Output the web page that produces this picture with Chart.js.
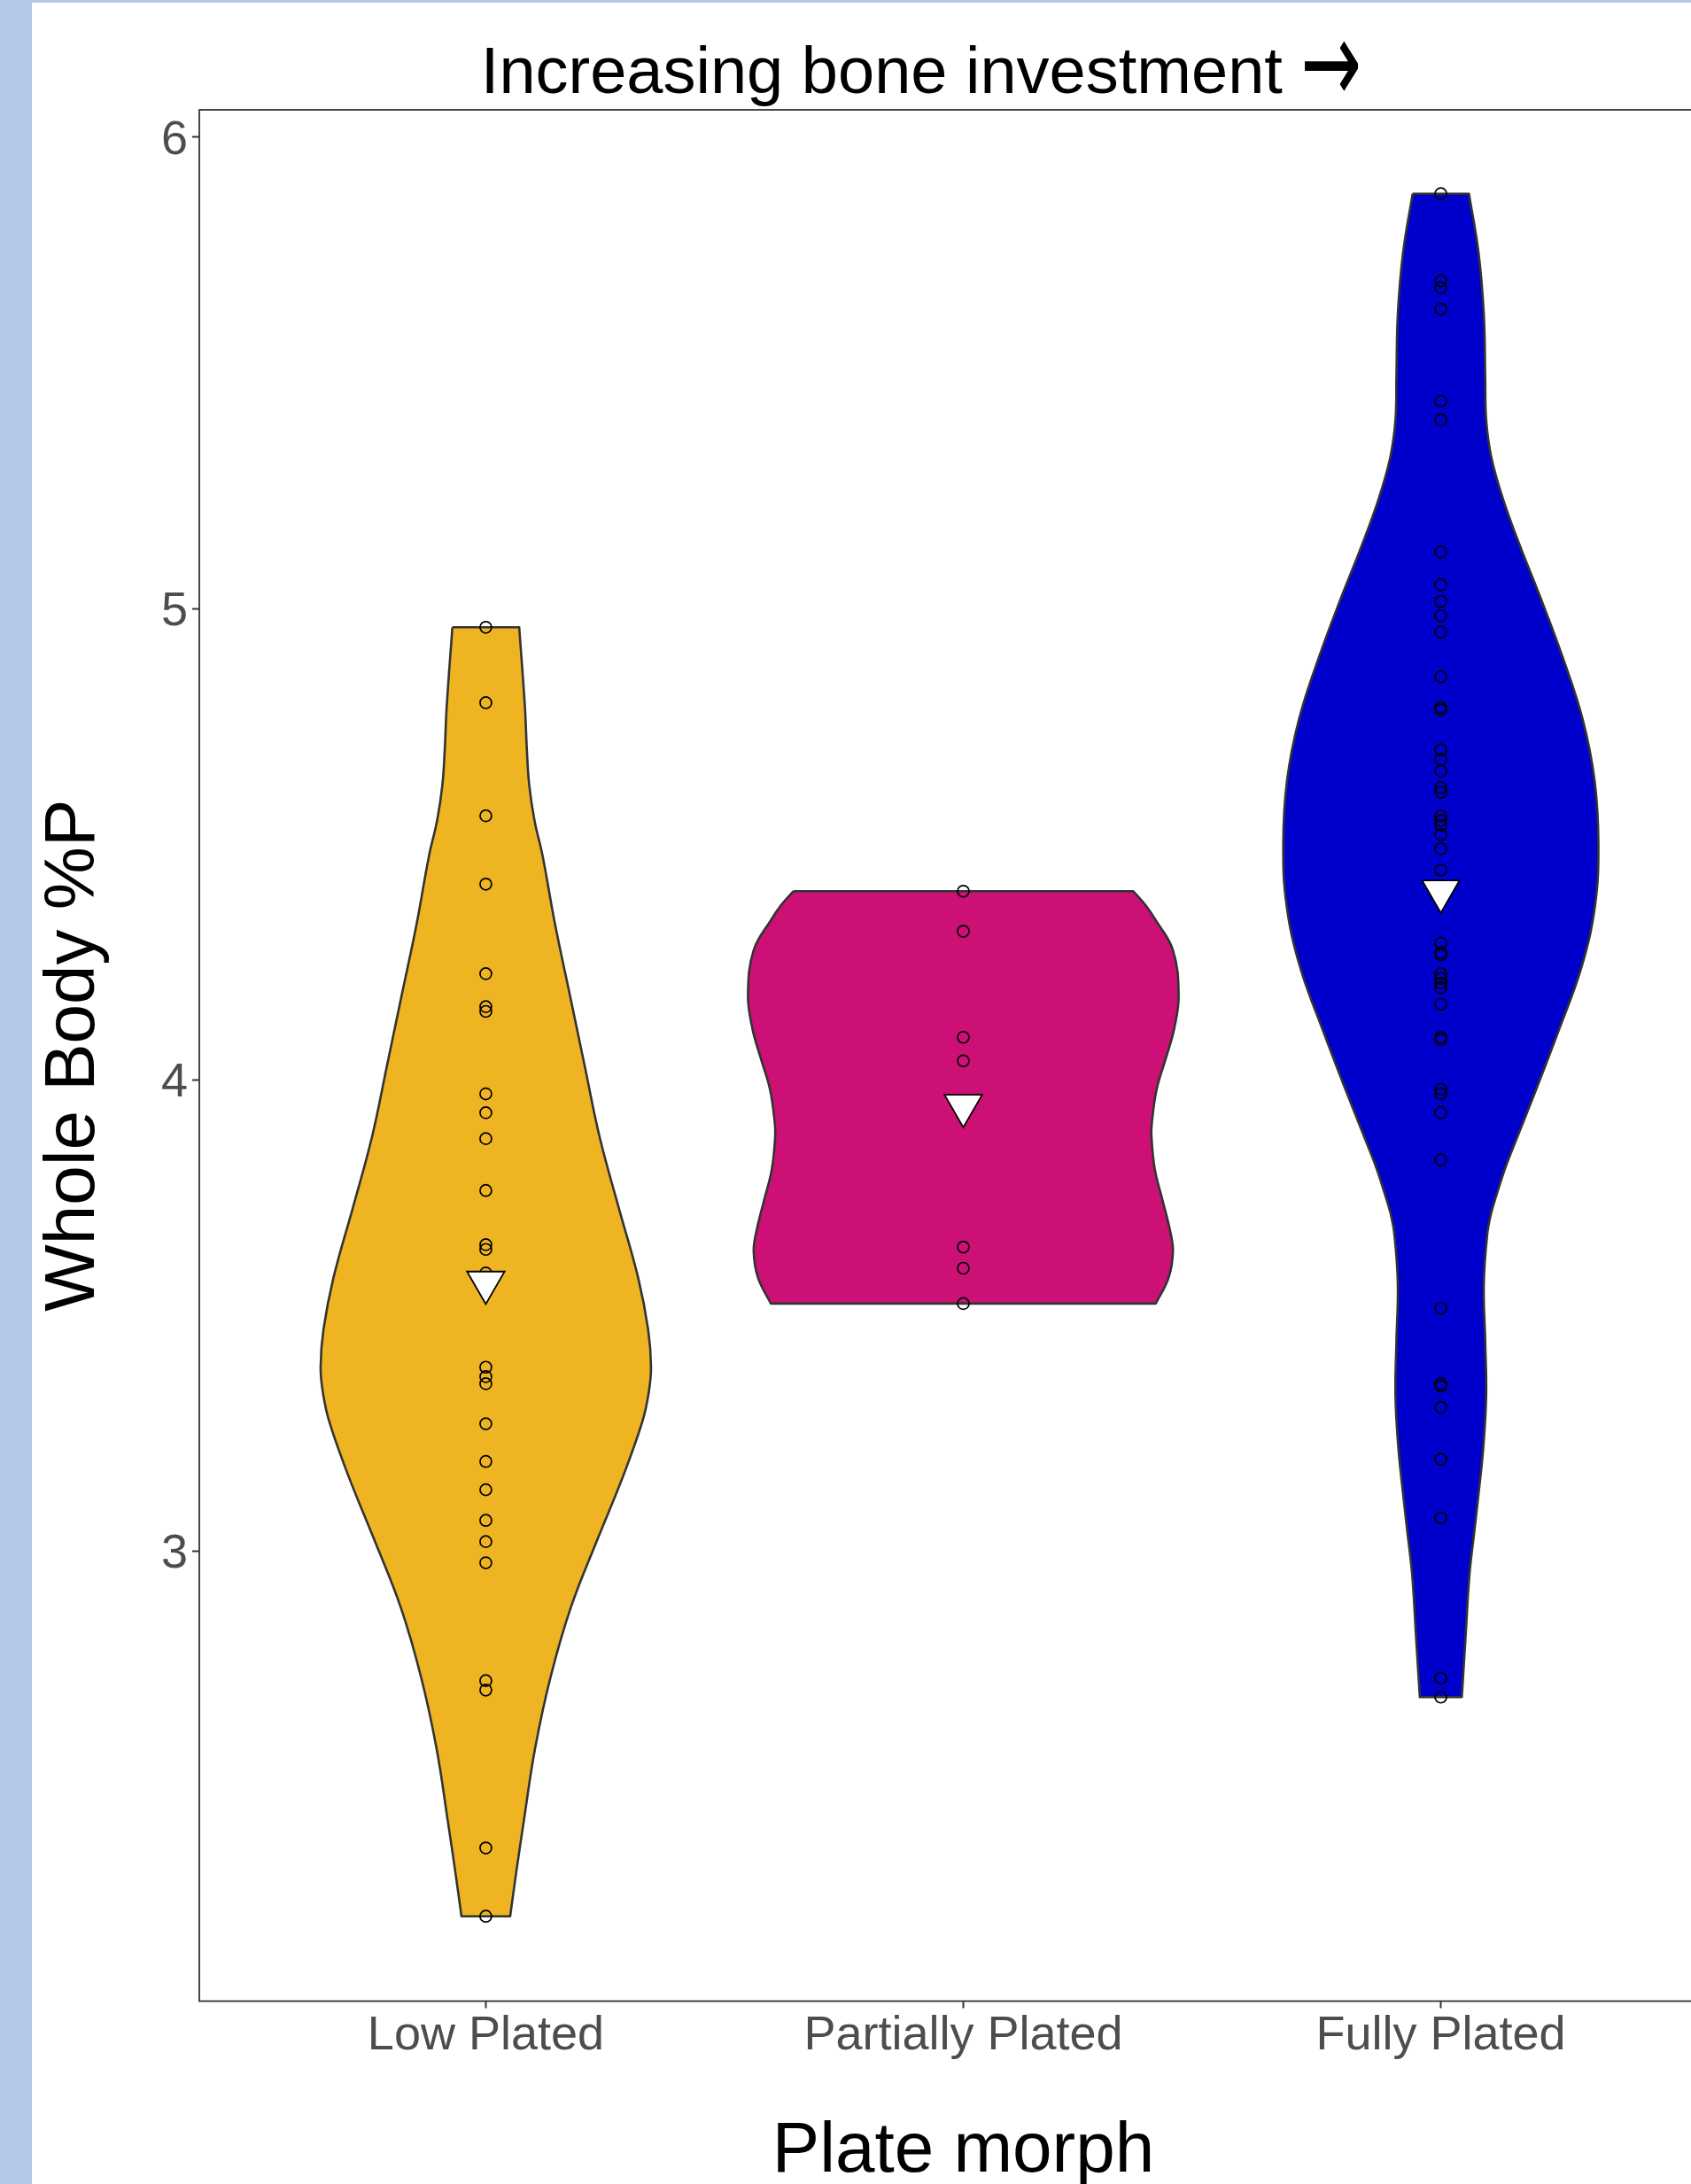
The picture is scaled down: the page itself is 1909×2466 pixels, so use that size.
<!DOCTYPE html>
<html>
<head>
<meta charset="utf-8">
<script src="https://cdn.jsdelivr.net/npm/chart.js@4.4.1/dist/chart.umd.min.js"></script>
<style>
    html, body { margin: 0; padding: 0; overflow: hidden; background: #ffffff; }
    body { width: 1909px; height: 2466px; position: relative; }
    #leftBar { position: absolute; left: 0; top: 0; width: 36px; height: 2466px; background: #b4c7e7; z-index: 2; }
    #topBar { position: absolute; left: 0; top: 0; width: 1909px; height: 3px; background: #b4c7e7; z-index: 2; }
    #chartBox { position: absolute; left: 36px; top: 0; width: 2008px; height: 2466px; }
    #plotTitle {
        position: absolute; left: 0; top: 40px; width: 2080px; height: 74px;
        text-align: center; white-space: nowrap; z-index: 3;
        font-family: 'Liberation Sans', Arial, sans-serif; font-size: 74px; line-height: 74px; color: #000000;
    }
    #plotTitle .arrow {
        display: inline-block; font-family: 'DejaVu Sans', sans-serif; font-weight: normal;
        font-size: 82px; line-height: 74px;
        transform: translateY(-6px) scale(1, 1.6);
    }
</style>
</head>
<body>
<div id="leftBar"></div>
<div id="topBar"></div>
<div id="chartBox"><canvas id="violin"></canvas></div>
<div id="plotTitle">Increasing bone investment <span class="arrow">→</span></div>
<script>
const categories = ["Low Plated", "Partially Plated", "Fully Plated"];
const fillColors = ["#EEB422", "#CD1076", "#0000CD"];
const yTicks = [3, 4, 5, 6];

// outline of each violin: level (%P) and half width (x units)
const lowLevels = [4.96, 4.79, 4.70, 4.625, 4.55, 4.475, 4.33, 4.18, 4.03, 3.88, 3.73, 3.58, 3.47, 3.39, 3.335, 3.275, 3.16, 3.03, 2.88, 2.73, 2.58, 2.43, 2.32, 2.225];
const lowHalfWidths = [0.070, 0.082, 0.086, 0.091, 0.102, 0.119, 0.145, 0.176, 0.207, 0.238, 0.278, 0.319, 0.340, 0.346, 0.341, 0.328, 0.288, 0.236, 0.178, 0.135, 0.103, 0.080, 0.064, 0.051];

const partialLevels = [4.40, 4.37, 4.34, 4.275, 4.18, 4.11, 4.045, 3.98, 3.91, 3.88, 3.81, 3.745, 3.68, 3.635, 3.58, 3.525];
const partialHalfWidths = [0.356, 0.382, 0.402, 0.439, 0.451, 0.442, 0.424, 0.405, 0.395, 0.394, 0.401, 0.417, 0.433, 0.439, 0.430, 0.403];

const fullyLevels = [5.88, 5.755, 5.625, 5.49, 5.40, 5.32, 5.23, 5.135, 5.03, 4.90, 4.765, 4.635, 4.50, 4.37, 4.24, 4.105, 3.975, 3.85, 3.81, 3.76, 3.715, 3.67, 3.565, 3.445, 3.33, 3.22, 3.13, 3.04, 2.95, 2.82, 2.69];
const fullyHalfWidths = [0.059, 0.079, 0.090, 0.093, 0.095, 0.106, 0.131, 0.165, 0.206, 0.254, 0.297, 0.322, 0.330, 0.323, 0.295, 0.247, 0.198, 0.149, 0.134, 0.118, 0.105, 0.097, 0.090, 0.093, 0.095, 0.089, 0.080, 0.070, 0.060, 0.052, 0.044];

// individual fish
const lowValues = [4.96, 4.80, 4.56, 4.415, 4.225, 4.155, 4.145, 3.97, 3.93, 3.875, 3.765, 3.65, 3.64, 3.59, 3.39, 3.37, 3.355, 3.27, 3.19, 3.13, 3.065, 3.02, 2.975, 2.725, 2.705, 2.37, 2.225];
const partialValues = [4.40, 4.315, 4.09, 4.04, 3.645, 3.60, 3.525];
const fullyValues = [5.88, 5.695, 5.68, 5.635, 5.44, 5.40, 5.12, 5.05, 5.015, 4.985, 4.95, 4.855, 4.79, 4.785, 4.70, 4.68, 4.655, 4.62, 4.61, 4.56, 4.55, 4.54, 4.52, 4.49, 4.445, 4.29, 4.27, 4.265, 4.225, 4.215, 4.205, 4.195, 4.16, 4.09, 4.085, 3.98, 3.97, 3.93, 3.83, 3.515, 3.355, 3.35, 3.305, 3.195, 3.07, 2.73, 2.69];

const groupMeans = [3.57, 3.945, 4.40];

Chart.defaults.font.family = "'Liberation Sans', Arial, sans-serif";

// closed path: top edge, right side down, bottom edge, left side up.
// corners are doubled so the flat top and bottom stay straight
function violinOutline(center, levels, halfWidths) {
    const right = levels.map((y, i) => ({ x: center + halfWidths[i], y: y }));
    const left = levels.map((y, i) => ({ x: center - halfWidths[i], y: y })).reverse();
    const n = right.length;
    return [left[n - 1], right[0], ...right, right[n - 1], left[0], ...left];
}

const outlines = [
    [lowLevels, lowHalfWidths],
    [partialLevels, partialHalfWidths],
    [fullyLevels, fullyHalfWidths]
];

const violinSets = outlines.map(([levels, widths], i) => ({
    type: "scatter",
    label: categories[i],
    data: violinOutline(i + 1, levels, widths),
    showLine: true,
    fill: "shape",
    backgroundColor: fillColors[i],
    borderColor: "#333333",
    borderWidth: 2.6,
    borderJoinStyle: "round",
    tension: 0.4,
    pointRadius: 0,
    pointHoverRadius: 0,
    order: 3
}));

const pointSets = [lowValues, partialValues, fullyValues].map((vals, i) => ({
    type: "scatter",
    label: categories[i] + " fish",
    data: vals.map(v => ({ x: i + 1, y: v })),
    pointStyle: "circle",
    pointRadius: 6.5,
    pointBorderWidth: 1.7,
    pointBorderColor: "#000000",
    pointBackgroundColor: "rgba(0,0,0,0)",
    showLine: false,
    order: 2
}));

const meanSet = {
    type: "scatter",
    label: "Mean",
    data: groupMeans.map((m, i) => ({ x: i + 1, y: m })),
    pointStyle: "triangle",
    rotation: 180,
    pointRadius: 24.5,
    pointBorderWidth: 1.8,
    pointBorderColor: "#000000",
    pointBackgroundColor: "#ffffff",
    showLine: false,
    order: 1
};

const panelBorder = {
    id: "panelBorder",
    afterDraw(chart) {
        const { ctx, chartArea } = chart;
        ctx.save();
        ctx.strokeStyle = "#333333";
        ctx.lineWidth = 1.8;
        ctx.strokeRect(chartArea.left, chartArea.top, chartArea.right - chartArea.left, chartArea.bottom - chartArea.top);
        ctx.restore();
    }
};

new Chart(document.getElementById("violin"), {
    type: "scatter",
    data: { datasets: [meanSet, ...pointSets, ...violinSets] },
    options: {
        responsive: true,
        maintainAspectRatio: false,
        animation: false,
        layout: { padding: { left: 0, right: 94, top: 124, bottom: 0 } },
        plugins: {
            legend: { display: false },
            tooltip: { enabled: false },
            title: { display: false }
        },
        scales: {
            x: {
                type: "linear",
                min: 0.4,
                max: 3.6,
                afterBuildTicks: (scale) => { scale.ticks = [1, 2, 3].map(v => ({ value: v })); },
                afterFit: (scale) => { scale.height = 206.5; },
                grid: { drawOnChartArea: false, drawTicks: true, tickLength: 8, tickColor: "#333333", tickWidth: 2 },
                border: { display: false },
                ticks: {
                    color: "#4d4d4d",
                    font: { size: 54, lineHeight: 1 },
                    padding: 5,
                    maxRotation: 0,
                    autoSkip: false,
                    callback: (v) => categories[v - 1]
                },
                title: {
                    display: true,
                    text: "Plate morph",
                    color: "#000000",
                    font: { size: 80, lineHeight: 0.9 },
                    padding: { top: 0, bottom: 0 }
                }
            },
            y: {
                min: 2.045,
                max: 6.058,
                afterBuildTicks: (scale) => { scale.ticks = yTicks.map(v => ({ value: v })); },
                afterFit: (scale) => { scale.width = 189; },
                grid: { drawOnChartArea: false, drawTicks: true, tickLength: 8, tickColor: "#333333", tickWidth: 2 },
                border: { display: false },
                ticks: {
                    color: "#4d4d4d",
                    font: { size: 54, lineHeight: 1 },
                    padding: 5,
                    labelOffset: 4,
                    callback: (v) => String(v)
                },
                title: {
                    display: true,
                    text: "Whole Body %P",
                    color: "#000000",
                    font: { size: 80, lineHeight: 1.2 },
                    padding: { top: 0, bottom: 0 }
                }
            }
        }
    },
    plugins: [panelBorder]
});
</script>
</body>
</html>
